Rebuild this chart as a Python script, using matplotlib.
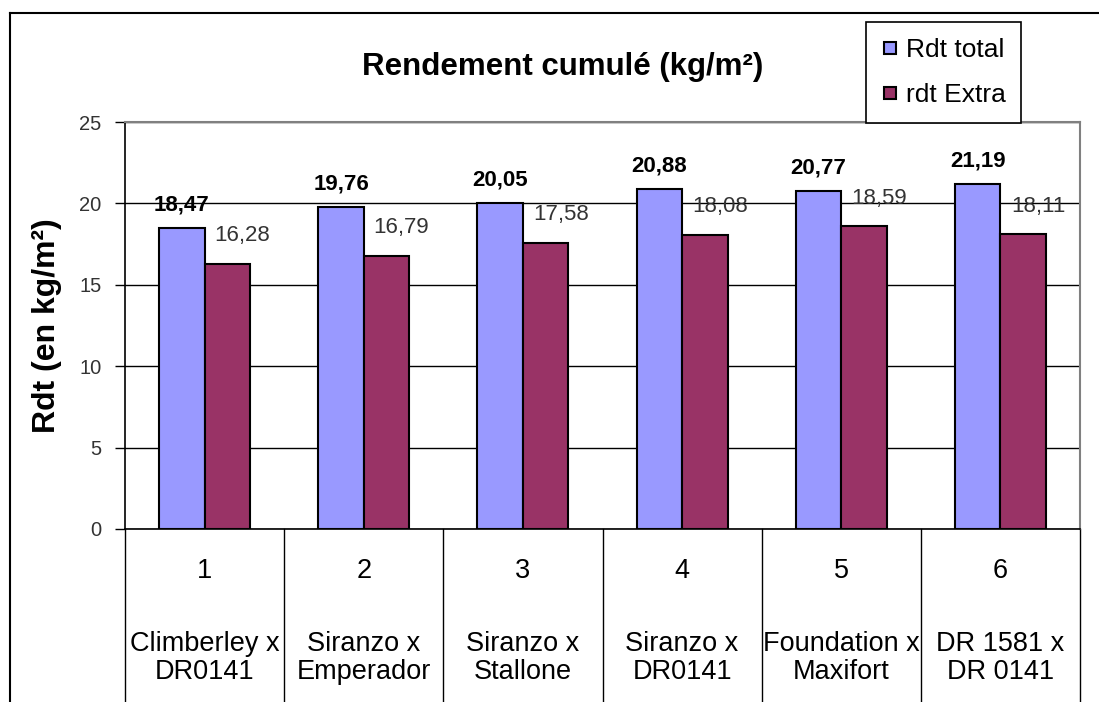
import numpy as np
import matplotlib.pyplot as plt
from matplotlib.lines import Line2D

plt.rcParams['font.family'] = ['Liberation Sans', 'DejaVu Sans']

# data
numbers = ['1', '2', '3', '4', '5', '6']
crosses = ['Climberley x\nDR0141', 'Siranzo x\nEmperador', 'Siranzo x\nStallone',
           'Siranzo x\nDR0141', 'Foundation x\nMaxifort', 'DR 1581 x\nDR 0141']
rdt_total = [18.47, 19.76, 20.05, 20.88, 20.77, 21.19]
rdt_extra = [16.28, 16.79, 17.58, 18.08, 18.59, 18.11]

blue = '#9999FF'
maroon = '#993366'

fig = plt.figure(figsize=(10.99, 7.02), dpi=100)
ax = fig.add_axes([125/1099, 1 - 529/702, (1080-125)/1099, (529-122)/702])

x = np.arange(len(numbers))
w = 1 / 3.5  # excel gap width 150%

ax.bar(x - w/2, rdt_total, w, color=blue, edgecolor='black', linewidth=1.5, zorder=3)
ax.bar(x + w/2, rdt_extra, w, color=maroon, edgecolor='black', linewidth=1.5, zorder=3)

for xi, v in zip(x, rdt_total):
    ax.annotate(f'{v:.2f}'.replace('.', ','), (xi - w/2, v), xytext=(0, 23),
                textcoords='offset pixels', ha='center', va='center',
                fontsize=16, fontweight='bold', color='black', zorder=5)
for xi, v in zip(x, rdt_extra):
    ax.annotate(f'{v:.2f}'.replace('.', ','), (xi + w/2, v), xytext=(15, 28),
                textcoords='offset pixels', ha='center', va='center',
                fontsize=16, color='#333333', zorder=5)

ax.set_xlim(-0.5, 5.5)
ax.set_ylim(0, 25)
ax.set_yticks([0, 5, 10, 15, 20, 25])
ax.yaxis.grid(True, color='black', linewidth=1)
ax.set_axisbelow(True)
ax.tick_params(axis='y', labelsize=14.5, labelcolor='#333333', length=7, width=1, pad=10)
ax.set_xticks([])

for s in ['top', 'right']:
    ax.spines[s].set_color('#808080')
    ax.spines[s].set_linewidth(1.5)
ax.spines['left'].set_linewidth(1.2)
ax.spines['bottom'].set_linewidth(1.2)

ax.set_ylabel('Rdt (en kg/m²)', fontsize=23, fontweight='bold', labelpad=12)

# category table under the axis
tr = ax.get_xaxis_transform()
for k in range(len(numbers) + 1):
    ax.plot([k - 0.5, k - 0.5], [0, -0.44], color='black', linewidth=1,
            transform=tr, clip_on=False)
for xi, n, c in zip(x, numbers, crosses):
    ax.text(xi, -0.103, n, transform=tr, ha='center', va='center', fontsize=19.5)
    ax.text(xi, -0.317, c, transform=tr, ha='center', va='center', fontsize=19.5,
            linespacing=1.1)

fig.text(563/1099, 1 - 67/702, 'Rendement cumulé (kg/m²)', ha='center', va='center',
         fontsize=22.5, fontweight='bold')

handles = [Line2D([], [], marker='s', linestyle='none', markersize=9,
                  markerfacecolor=blue, markeredgecolor='black', markeredgewidth=1.5),
           Line2D([], [], marker='s', linestyle='none', markersize=9,
                  markerfacecolor=maroon, markeredgecolor='black', markeredgewidth=1.5)]
leg = fig.legend(handles, ['Rdt total', 'rdt Extra'], loc='upper left',
                 bbox_to_anchor=(866/1099, 1 - 22/702), fontsize=19,
                 frameon=True, fancybox=False, edgecolor='black', framealpha=1,
                 handlelength=0.6, handletextpad=0.3, labelspacing=0.8,
                 borderpad=0.6, borderaxespad=0)
leg.get_frame().set_linewidth(1.2)

# outer chart border (left and top)
fig.add_artist(Line2D([10/1099, 10/1099], [0, 1 - 13/702], color='black', linewidth=1.5))
fig.add_artist(Line2D([10/1099, 1], [1 - 13/702, 1 - 13/702], color='black', linewidth=1.5))

fig.savefig('out.png', dpi=100)
